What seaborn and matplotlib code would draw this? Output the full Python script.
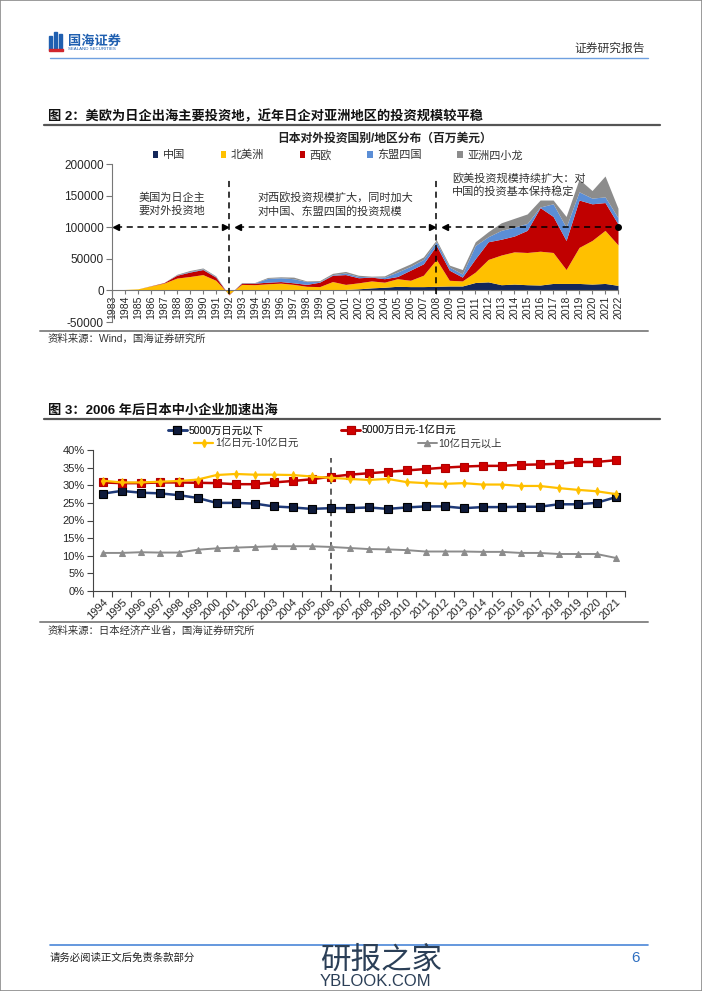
import numpy as np
import pandas as pd
import matplotlib
matplotlib.use("Agg")
import matplotlib.pyplot as plt
from matplotlib.lines import Line2D
from matplotlib.patches import Patch, Rectangle
import seaborn as sns

# ── chart 1: Japan outbound FDI by region (million USD) ──
years1 = list(range(1983, 2023))
china = [0, 0, 0, 100, 200, 300, 400, 300, 200, 0,
         500, 700, 1500, 1500, 1500, 1000, 800, 1000, 1500, 2500,
         4000, 5000, 6500, 6000, 6000, 6500, 7000, 7000, 12500, 13500,
         9000, 10000, 9000, 8500, 11000, 11000, 11000, 10000, 11000, 8000]
north_america = [1000, 1500, 2500, 6900, 11300, 19200, 21600, 24700, 15800, -6000,
                 9000, 8300, 9000, 10000, 8000, 5500, 5200, 13000, 8000, 9500,
                 11000, 8000, 12000, 10000, 18000, 42500, 9000, 8000, 16500, 35500,
                 47000, 51000, 51000, 53500, 49000, 22000, 57000, 69000, 84000, 64000]
west_europe = [0, 0, 0, 300, 800, 4500, 7000, 8000, 5000, -1000,
               2000, 2500, 2500, 2500, 2500, 3000, 7000, 10000, 15500, 8000,
               6000, 5500, 3500, 16000, 18000, 22000, 16000, 6000, 21000, 28000,
               25000, 25000, 35000, 69000, 57000, 46000, 75000, 58000, 44000, 33000]
asean4 = [0, 0, 0, 0, 0, 500, 1000, 1000, 1000, 0,
          500, 500, 6000, 6000, 6500, 4500, 1000, 1000, 2500, 2000,
          500, 2500, 7000, 6000, 7000, 6000, 5000, 5000, 21000, 8000,
          14000, 14000, 11000, 1000, 20000, 21000, 13000, 9000, 9000, 10000]
nies4 = [0, 0, 0, 200, 200, 1000, 1500, 1500, 1000, 0,
         500, 500, 1500, 1500, 2500, 1000, 1500, 2000, 2500, 2000,
         1000, 2000, 4000, 4000, 4000, 3000, 3000, 7000, 6000, 8000,
         12000, 14000, 15000, 11000, 6000, 17000, 20000, 12000, 33000, 15000]
regions = ["中国", "北美洲", "西欧", "东盟四国", "亚洲四小龙"]
region_colors = ["#14275A", "#FFC000", "#C00000", "#5B8ED6", "#8C8C8C"]

# ── chart 2: share of SMEs by capital size (%) ──
years2 = list(range(1994, 2022))
cap_small = [27.6, 28.4, 27.9, 27.7, 27.2, 26.4, 25.0, 25.0, 24.8, 24.0,
             23.7, 23.3, 23.5, 23.5, 23.7, 23.3, 23.7, 24.0, 24.0, 23.5,
             23.8, 23.8, 23.9, 23.9, 24.6, 24.6, 25.0, 26.6]
cap_mid = [30.8, 30.6, 30.6, 30.8, 30.8, 30.7, 30.6, 30.3, 30.3, 30.8,
           31.2, 31.7, 32.4, 33.0, 33.4, 33.8, 34.2, 34.6, 35.0, 35.3,
           35.5, 35.5, 35.8, 35.9, 36.1, 36.6, 36.6, 37.1]
cap_large = [31.3, 30.8, 30.8, 31.0, 31.2, 31.6, 32.9, 33.2, 33.0, 33.0,
             32.9, 32.5, 32.1, 31.8, 31.5, 31.8, 30.9, 30.6, 30.4, 30.6,
             30.2, 30.2, 29.8, 29.8, 29.2, 28.7, 28.3, 27.5]
cap_xlarge = [10.8, 10.8, 11.0, 10.9, 10.9, 11.7, 12.1, 12.3, 12.5, 12.7,
              12.7, 12.7, 12.5, 12.2, 11.9, 11.8, 11.6, 11.2, 11.2, 11.2,
              11.1, 11.1, 10.8, 10.8, 10.5, 10.5, 10.5, 9.4]
cap_names = ["5000万日元以下", "5000万日元-1亿日元", "1亿日元-10亿日元", "10亿日元以上"]

sns.set_theme(style="white")
plt.rcParams['font.family'] = ['Liberation Sans', 'Noto Sans CJK SC', 'DejaVu Sans']
plt.rcParams['axes.unicode_minus'] = False

W, H = 702, 991
fig = plt.figure(figsize=(W / 100, H / 100), dpi=100)
fig.patch.set_facecolor("white")


def fx(x):
    return x / W


def fy(y):
    return 1 - y / H


def hline(x0, x1, y, color, lw):
    fig.add_artist(Line2D([fx(x0), fx(x1)], [fy(y), fy(y)], color=color, lw=lw,
                          transform=fig.transFigure))


def txt(x, y, s, **kw):
    fig.text(fx(x), fy(y), s, **kw)


# ── page frame, header, footer ──
fig.add_artist(Rectangle((0, 0), 1, 1, fill=False, ec="#8a8a8a", lw=1.2,
                         transform=fig.transFigure))
for bx, bh in [(49, 14), (54, 18), (59, 16)]:
    fig.add_artist(Rectangle((fx(bx), fy(50)), fx(3), bh / H, color="#1f5fb0",
                             transform=fig.transFigure))
fig.add_artist(Rectangle((fx(49), fy(51)), fx(14), 2 / H, color="#d0262d",
                         transform=fig.transFigure))
txt(68, 42, "国海证券", fontsize=9.5, color="#1f5fb0", fontweight="bold", va="center")
txt(68, 49.5, "SEALAND SECURITIES", fontsize=3.2, color="#1f5fb0", va="center")
txt(645, 49, "证券研究报告", fontsize=8.5, color="#333333", ha="right", va="center")
hline(50, 648, 58, "#6fa0e0", 1.0)

hline(50, 648, 945, "#4a86d8", 1.2)
txt(50, 958, "请务必阅读正文后免责条款部分", fontsize=7.5, color="#222222", va="center")
txt(640, 958, "6", fontsize=11, color="#2f6fc0", ha="right", va="center")
txt(320, 961, "研报之家", fontsize=22, color="#2b3f57", va="center")
txt(320, 982, "YBLOOK.COM", fontsize=12, color="#2b3f57", va="center")

# ── chart 1 ──
txt(48, 116, "图 2：美欧为日企出海主要投资地，近年日企对亚洲地区的投资规模较平稳",
    fontsize=9.5, fontweight="bold", color="#111111", va="center")
hline(44, 660, 125, "#555555", 1.6)
txt(385, 139, "日本对外投资国别/地区分布（百万美元）", fontsize=8.5,
    fontweight="bold", color="#222222", ha="center", va="center")

df1 = pd.DataFrame({"year": years1, regions[0]: china, regions[1]: north_america,
                    regions[2]: west_europe, regions[3]: asean4, regions[4]: nies4})

ax1 = fig.add_axes([fx(112), fy(322), fx(618) - fx(112), (322 - 164) / H])
# spine position first: moving a spine resets the tick label styling
ax1.spines["bottom"].set_position(("data", 0))
ax1.stackplot(df1["year"], [df1[r] for r in regions], colors=region_colors,
              labels=regions, lw=0)
ax1.set_xlim(1983, 2022)
ax1.set_ylim(-50000, 200000)
ax1.set_yticks([-50000, 0, 50000, 100000, 150000, 200000])
ax1.set_yticklabels(["-50000", "0", "50000", "100000", "150000", "200000"])
ax1.set_xticks(years1)
ax1.set_xticklabels([str(y) for y in years1], rotation=90, fontsize=7.5)
ax1.tick_params(axis="y", labelsize=8.5, length=4, width=0.8, color="#777777",
                direction="out", left=True, pad=2)
ax1.tick_params(axis="x", length=3, width=0.8, color="#777777", direction="out",
                bottom=True, pad=1)
for s in ["top", "right"]:
    ax1.spines[s].set_visible(False)
for s in ["left", "bottom"]:
    ax1.spines[s].set_color("#777777")
    ax1.spines[s].set_linewidth(0.8)
ax1.set_facecolor("none")

for xv in (1992, 2008):
    ax1.plot([xv, xv], [-6000, 178000], ls=(0, (4, 3)), color="black", lw=1.1,
             clip_on=False, zorder=5)
segments = [(1983.3, 1991.7, "<", ">"), (1992.7, 2007.7, "<", ">"), (2008.7, 2022, "<", "o")]
for x0, x1, m0, m1 in segments:
    ax1.plot([x0, x1], [100000, 100000], ls=(0, (4, 3)), color="black", lw=1.1,
             clip_on=False, zorder=5)
    ax1.plot([x0], [100000], marker=m0, color="black", ms=5, clip_on=False, zorder=6)
    ax1.plot([x1], [100000], marker=m1, color="black", ms=5 if m1 != "o" else 4,
             clip_on=False, zorder=6)
ax1.text(1987.6, 136000, "美国为日企主\n要对外投资地", fontsize=8, ha="center",
         va="center", color="#333333", linespacing=1.3)
ax1.text(1994.2, 136000, "对西欧投资规模扩大，同时加大\n对中国、东盟四国的投资规模",
         fontsize=8, ha="left", va="center", color="#333333", linespacing=1.3)
ax1.text(2009.2, 167000, "欧美投资规模持续扩大：对\n中国的投资基本保持稳定",
         fontsize=8, ha="left", va="center", color="#333333", linespacing=1.3)

handles1 = [Patch(facecolor=c, edgecolor="none") for c in region_colors]
fig.legend(handles1, regions, loc="center", bbox_to_anchor=(fx(338), fy(155)),
           ncol=5, frameon=False, fontsize=8, handlelength=0.5, handleheight=0.5,
           handletextpad=0.4, columnspacing=3.2, labelcolor="#333333")

hline(40, 648, 331, "#888888", 1.4)
txt(48, 339, "资料来源：Wind，国海证券研究所", fontsize=7.5, color="#333333", va="center")

# ── chart 2 ──
txt(48, 410, "图 3：2006 年后日本中小企业加速出海", fontsize=9.5, fontweight="bold",
    color="#111111", va="center")
hline(44, 660, 419, "#555555", 1.6)

df2 = pd.DataFrame({"idx": np.arange(len(years2)), cap_names[0]: cap_small,
                    cap_names[1]: cap_mid, cap_names[2]: cap_large,
                    cap_names[3]: cap_xlarge})
ax2 = fig.add_axes([fx(93), fy(591), fx(625) - fx(93), (591 - 450) / H])
styles = [
    dict(color="#1F3A78", marker="s", markersize=6, markerfacecolor="#0E1A3A",
         markeredgecolor="#000000", markeredgewidth=0.8, lw=1.8),
    dict(color="#C00000", marker="s", markersize=6, markerfacecolor="#D00000",
         markeredgecolor="#B00000", markeredgewidth=0.8, lw=1.8),
    dict(color="#FFC000", marker="d", markersize=4, markerfacecolor="#FFC000",
         markeredgecolor="#FFC000", lw=1.6),
    dict(color="#8C8C8C", marker="^", markersize=4, markerfacecolor="#8C8C8C",
         markeredgecolor="#8C8C8C", lw=1.4),
]
for k in [3, 2, 0, 1]:
    sns.lineplot(data=df2, x="idx", y=cap_names[k], ax=ax2, label=cap_names[k],
                 zorder=3 + k, **styles[k])
ax2.set_xlim(-0.5, len(years2) - 0.5)
ax2.set_ylim(0, 40)
ax2.set_yticks(range(0, 41, 5))
ax2.set_yticklabels([f"{v}%" for v in range(0, 41, 5)])
ax2.set_xticks(np.arange(len(years2)))
ax2.set_xticklabels([str(y) for y in years2], rotation=45, ha="right",
                    rotation_mode="anchor", fontsize=8)
ax2.set_xticks(np.arange(len(years2) + 1) - 0.5, minor=True)
ax2.tick_params(axis="x", which="major", length=0, pad=4)
ax2.tick_params(axis="x", which="minor", length=4, width=0.8, color="#444444",
                direction="out", bottom=True)
ax2.tick_params(axis="y", labelsize=8, length=4, width=0.8, color="#444444",
                direction="out", left=True, pad=2)
ax2.set_xlabel("")
ax2.set_ylabel("")
for s in ["top", "right"]:
    ax2.spines[s].set_visible(False)
for s in ["left", "bottom"]:
    ax2.spines[s].set_color("#444444")
    ax2.spines[s].set_linewidth(0.8)
ax2.axvline(years2.index(2006), ymin=0, ymax=0.94, color="#333333", ls=(0, (4, 3)),
            lw=1.1, zorder=2)
ax2.get_legend().remove()
ax2.set_facecolor("none")

# Excel-style legend: each row centred on its own
leg_handles = [Line2D([0], [0], **styles[k]) for k in range(4)]
row1 = fig.legend(leg_handles[:2], cap_names[:2], loc="center",
                  bbox_to_anchor=(fx(312), fy(431)), ncol=2, frameon=False,
                  fontsize=7.5, handlelength=1.8, handletextpad=0.15,
                  columnspacing=7.5, labelcolor="#333333", borderpad=0)
fig.add_artist(row1)
fig.legend(leg_handles[2:], cap_names[2:], loc="center",
           bbox_to_anchor=(fx(348), fy(444)), ncol=2, frameon=False, fontsize=7.5,
           handlelength=1.8, handletextpad=0.15, columnspacing=11.5,
           labelcolor="#333333", borderpad=0)

hline(40, 648, 622, "#888888", 1.4)
txt(48, 631, "资料来源：日本经济产业省，国海证券研究所", fontsize=7.5, color="#333333",
    va="center")

fig.savefig("out.png", dpi=100, facecolor="white")
